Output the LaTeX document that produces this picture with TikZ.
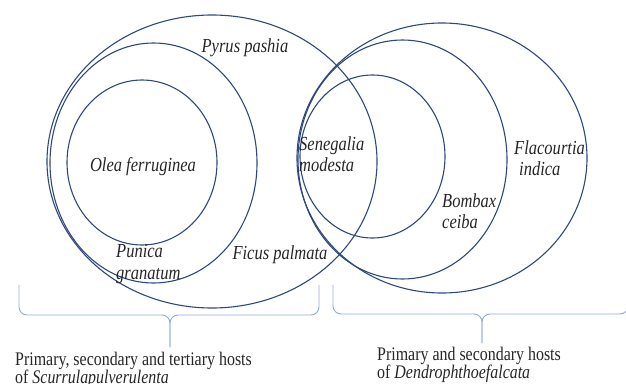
\documentclass[tikz,border=0pt]{standalone}
\usepackage{fontspec}
\setmainfont{Liberation Serif}[FakeStretch=0.83]
\definecolor{ringblue}{RGB}{46,72,125}
\definecolor{braceblue}{RGB}{143,170,220}
\definecolor{inkgray}{RGB}{38,38,38}
\begin{document}
\begin{tikzpicture}[x=1pt,y=-1pt,
    ring/.style={draw=ringblue,line width=1.1pt},
    brace/.style={draw=braceblue,line width=0.9pt,rounded corners=8pt},
    lbl/.style={inner sep=0pt,text=inkgray,align=left,
      font=\fontsize{19.9}{21.5}\selectfont\itshape},
    note/.style={inner sep=0pt,text=inkgray,align=left,anchor=north west,
      font=\fontsize{19.2}{18}\selectfont}]
      \useasboundingbox (0,0) rectangle (626,383);
      \draw[ring] (212,161.5) ellipse [x radius=165pt, y radius=146.5pt];
      \draw[ring] (153.5,163) ellipse [x radius=103.5pt, y radius=120pt];
      \draw[ring] (142,162.5) ellipse [x radius=75pt, y radius=82.5pt];
      \draw[ring] (442,158) ellipse [x radius=145pt, y radius=135pt];
      \draw[ring] (402.5,159.5) ellipse [x radius=104.5pt, y radius=119.5pt];
      \draw[ring] (372.5,156.5) ellipse [x radius=72.5pt, y radius=81.5pt];
      \node[lbl] (pyrus) at (245,48) {Pyrus pashia};
      \node[lbl] (olea) at (143,167) {Olea ferruginea};
      \node[lbl,anchor=west] (punica) at (116,264) {Punica\\granatum};
      \node[lbl] (ficus) at (280,255) {Ficus palmata};
      \node[lbl,anchor=west] (senegalia) at (299,154) {Senegalia\\modesta};
      \node[lbl,anchor=west] (bombax) at (442,211) {Bombax\\ceiba};
      \node[lbl,anchor=west] (flacourtia) at (514,158) {Flacourtia\\\hspace{5pt}indica};
      \coordinate (lend1) at (19,285);
      \coordinate (lend2) at (319,285);
      \coordinate (lmid) at (170,315);
      \coordinate (ltip) at (170,347);
      \coordinate (rend1) at (333,285);
      \coordinate (rend2) at (628,285);
      \coordinate (rmid) at (482,314);
      \coordinate (rtip) at (482,343);
      \begin{scope}[brace]
        \draw (lend1) |- (lmid) -- (ltip);
        \draw (lend2) |- (lmid) -- (ltip);
        \draw (rend1) |- (rmid) -- (rtip);
        \draw (rend2) |- (rmid) -- (rtip);
      \end{scope}
      \node[note] (scurrula) at (15,352) {Primary, secondary and tertiary hosts\\of \textit{Scurrulapulverulenta}};
      \node[note] (dendro) at (377,347) {Primary and secondary hosts\\of \textit{Dendrophthoefalcata}};
    \end{tikzpicture}
\end{document}
